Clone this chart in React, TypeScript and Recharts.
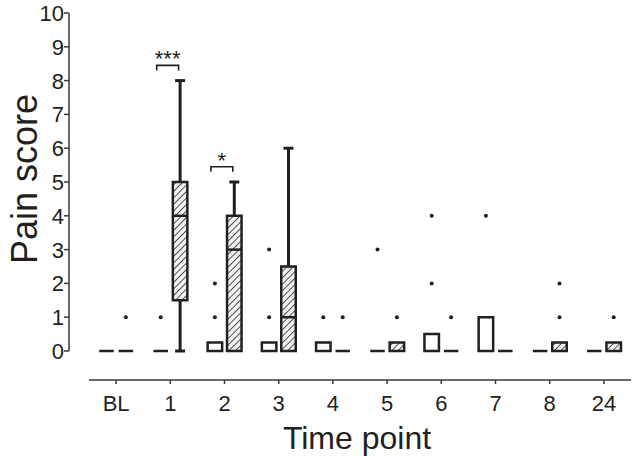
import { Bar, BarChart, XAxis, YAxis } from "recharts";

// time points
const categories = ["BL", "1", "2", "3", "4", "5", "6", "7", "8", "24"];

// open boxes
const openMin = [0, 0, 0, 0, 0, 0, 0, 0, 0, 0];
const openQ1 = [0, 0, 0, 0, 0, 0, 0, 0, 0, 0];
const openMedian = [0, 0, 0, 0, 0, 0, 0, 0, 0, 0];
const openQ3 = [0, 0, 0.25, 0.25, 0.25, 0, 0.5, 1, 0, 0];
const openMax = [0, 0, 0.25, 0.25, 0.25, 0, 0.5, 1, 0, 0];
const openOutliers = [[], [1], [1, 2], [1, 3], [1], [3], [2, 4], [4], [], []];

// hatched boxes
const hatchMin = [0, 0, 0, 0, 0, 0, 0, 0, 0, 0];
const hatchQ1 = [0, 1.5, 0, 0, 0, 0, 0, 0, 0, 0];
const hatchMedian = [0, 4, 3, 1, 0, 0, 0, 0, 0, 0];
const hatchQ3 = [0, 5, 4, 2.5, 0, 0.25, 0, 0, 0.25, 0.25];
const hatchMax = [0, 8, 5, 6, 0, 0.25, 0, 0, 0.25, 0.25];
const hatchOutliers = [[1], [], [], [], [1], [1], [1], [], [1, 2], [1]];

// significance marks
const sigLabels = ["", "***", "*", "", "", "", "", "", "", ""];
const sigLevels = [null, 8.45, 5.45, null, null, null, null, null, null, null];

const yTicks = [0, 1, 2, 3, 4, 5, 6, 7, 8, 9, 10];
const Y_MIN = 0;
const Y_MAX = 10;

const INK = "#231f20";
const FONT = "'Liberation Sans', Arial, Helvetica, sans-serif";
const BAR_GAP = 2.4;
const X_SHIFT = 29; // x axis sits below the zero line
const Y_SHIFT = 20; // y axis sits left of the first box

type Stats = {
  min: number;
  q1: number;
  median: number;
  q3: number;
  max: number;
  outliers: number[];
};

const data = categories.map((name, i) => ({
  name,
  open: {
    min: openMin[i],
    q1: openQ1[i],
    median: openMedian[i],
    q3: openQ3[i],
    max: openMax[i],
    outliers: openOutliers[i],
  } as Stats,
  hatch: {
    min: hatchMin[i],
    q1: hatchQ1[i],
    median: hatchMedian[i],
    q3: hatchQ3[i],
    max: hatchMax[i],
    outliers: hatchOutliers[i],
  } as Stats,
  sig: sigLabels[i],
  sigLevel: sigLevels[i],
}));

// full-range bars so the shape knows where the y scale puts every value
const openRange = (d: any) => (d.open ? [Y_MIN, Y_MAX] : null);
const hatchRange = (d: any) => (d.hatch ? [Y_MIN, Y_MAX] : null);

function BoxShape(props: any) {
  const { x, y, width, height, payload, group } = props;
  const s: Stats = payload[group];
  const py = (v: number) => y + (height * (Y_MAX - v)) / (Y_MAX - Y_MIN);
  const cx = x + width / 2;
  const left = x + 1.25;
  const right = x + width - 1.25;
  const cap = 5;
  const fill = group === "hatch" ? "url(#hatch)" : "#fff";

  const parts: any[] = [];
  if (s.max > s.q3) {
    parts.push(
      <line key="wu" x1={cx} x2={cx} y1={py(s.q3)} y2={py(s.max)} stroke={INK} strokeWidth={3} />,
      <line key="cu" x1={cx - cap} x2={cx + cap} y1={py(s.max)} y2={py(s.max)} stroke={INK} strokeWidth={3} />
    );
  }
  if (s.min < s.q1) {
    parts.push(
      <line key="wl" x1={cx} x2={cx} y1={py(s.q1)} y2={py(s.min)} stroke={INK} strokeWidth={3} />,
      <line key="cl" x1={cx - cap} x2={cx + cap} y1={py(s.min)} y2={py(s.min)} stroke={INK} strokeWidth={3} />
    );
  }
  parts.push(
    <path
      key="box"
      d={`M${left},${py(s.q3)}H${right}V${py(s.q1)}H${left}Z`}
      fill={fill}
      stroke={INK}
      strokeWidth={2.5}
    />
  );
  if (s.median > s.q1 && s.median < s.q3) {
    parts.push(
      <line key="med" x1={left} x2={right} y1={py(s.median)} y2={py(s.median)} stroke={INK} strokeWidth={2.5} />
    );
  }
  s.outliers.forEach((v, k) => {
    parts.push(<circle key={`o${k}`} cx={cx} cy={py(v)} r={2} fill={INK} />);
  });

  if (group === "hatch" && payload.sigLevel != null) {
    const openCx = cx - width - BAR_GAP;
    const bx1 = openCx - 4;
    const bx2 = cx - 1.5;
    const by = py(payload.sigLevel);
    parts.push(
      <path
        key="br"
        d={`M${bx1},${by + 5}V${by}H${bx2}V${by + 5}`}
        fill="none"
        stroke={INK}
        strokeWidth={1.6}
      />,
      <text
        key="sig"
        x={(bx1 + bx2) / 2}
        y={by + 1}
        textAnchor="middle"
        fontSize={22}
        style={{ fontFamily: FONT }}
        fill={INK}
      >
        {payload.sig}
      </text>
    );
  }
  return <g>{parts}</g>;
}

export default function App() {
  return (
    <div style={{ position: "absolute", left: 0, top: 0, background: "#fff", fontFamily: FONT }}>
      <BarChart
        width={634}
        height={456}
        data={data}
        margin={{ top: 13, right: 3, left: 0, bottom: 0 }}
        barSize={17}
        barGap={BAR_GAP}
      >
        <defs>
          <pattern
            id="hatch"
            width="4.6"
            height="4.6"
            patternUnits="userSpaceOnUse"
            patternTransform="rotate(45)"
          >
            <rect width="4.6" height="4.6" fill="#f2f2f2" />
            <line x1="0" y1="0" x2="0" y2="4.6" stroke="#3a3a3a" strokeWidth="1.7" />
          </pattern>
        </defs>
        <XAxis
          dataKey="name"
          height={105}
          tickSize={4}
          tickMargin={0}
          axisLine={{ stroke: "#3a3a3a", strokeWidth: 1.5, transform: `translate(0, ${X_SHIFT})` }}
          tickLine={{ stroke: "#3a3a3a", strokeWidth: 1.5, transform: `translate(0, ${X_SHIFT})` }}
          tick={(p: any) => (
            <text
              x={p.x}
              y={p.y + X_SHIFT + 27}
              textAnchor="middle"
              fontSize={22}
              style={{ fontFamily: FONT }}
              fill={INK}
            >
              {p.payload.value}
            </text>
          )}
          label={{
            value: "Time point",
            position: "insideBottom",
            content: (lp: any) => (
              <text
                x={lp.viewBox.x + lp.viewBox.width / 2 - 3}
                y={lp.viewBox.y + lp.viewBox.height - 7}
                textAnchor="middle"
                fontSize={32}
                style={{ fontFamily: FONT }}
                fill={INK}
              >
                Time point
              </text>
            ),
          }}
        />
        <YAxis
          type="number"
          domain={[Y_MIN, Y_MAX]}
          ticks={yTicks}
          width={89}
          tickSize={5}
          tickMargin={0}
          interval={0}
          axisLine={{ stroke: "#3a3a3a", strokeWidth: 1.5, transform: `translate(${-Y_SHIFT}, 0)` }}
          tickLine={{ stroke: "#3a3a3a", strokeWidth: 1.5, transform: `translate(${-Y_SHIFT}, 0)` }}
          tick={(p: any) => (
            <text
              x={p.x - Y_SHIFT}
              y={p.y}
              dy="0.36em"
              textAnchor="end"
              fontSize={22}
              style={{ fontFamily: FONT }}
              fill={INK}
            >
              {p.payload.value}
            </text>
          )}
          label={{
            value: "Pain score",
            position: "insideLeft",
            content: () => (
              <text
                transform="translate(37, 179) rotate(-90)"
                textAnchor="middle"
                fontSize={36}
                style={{ fontFamily: FONT }}
                fill={INK}
              >
                Pain score
              </text>
            ),
          }}
        />
        <Bar
          dataKey={openRange}
          isAnimationActive={false}
          shape={(p: any) => <BoxShape {...p} group="open" />}
        />
        <Bar
          dataKey={hatchRange}
          isAnimationActive={false}
          shape={(p: any) => <BoxShape {...p} group="hatch" />}
        />
      </BarChart>
    </div>
  );
}
